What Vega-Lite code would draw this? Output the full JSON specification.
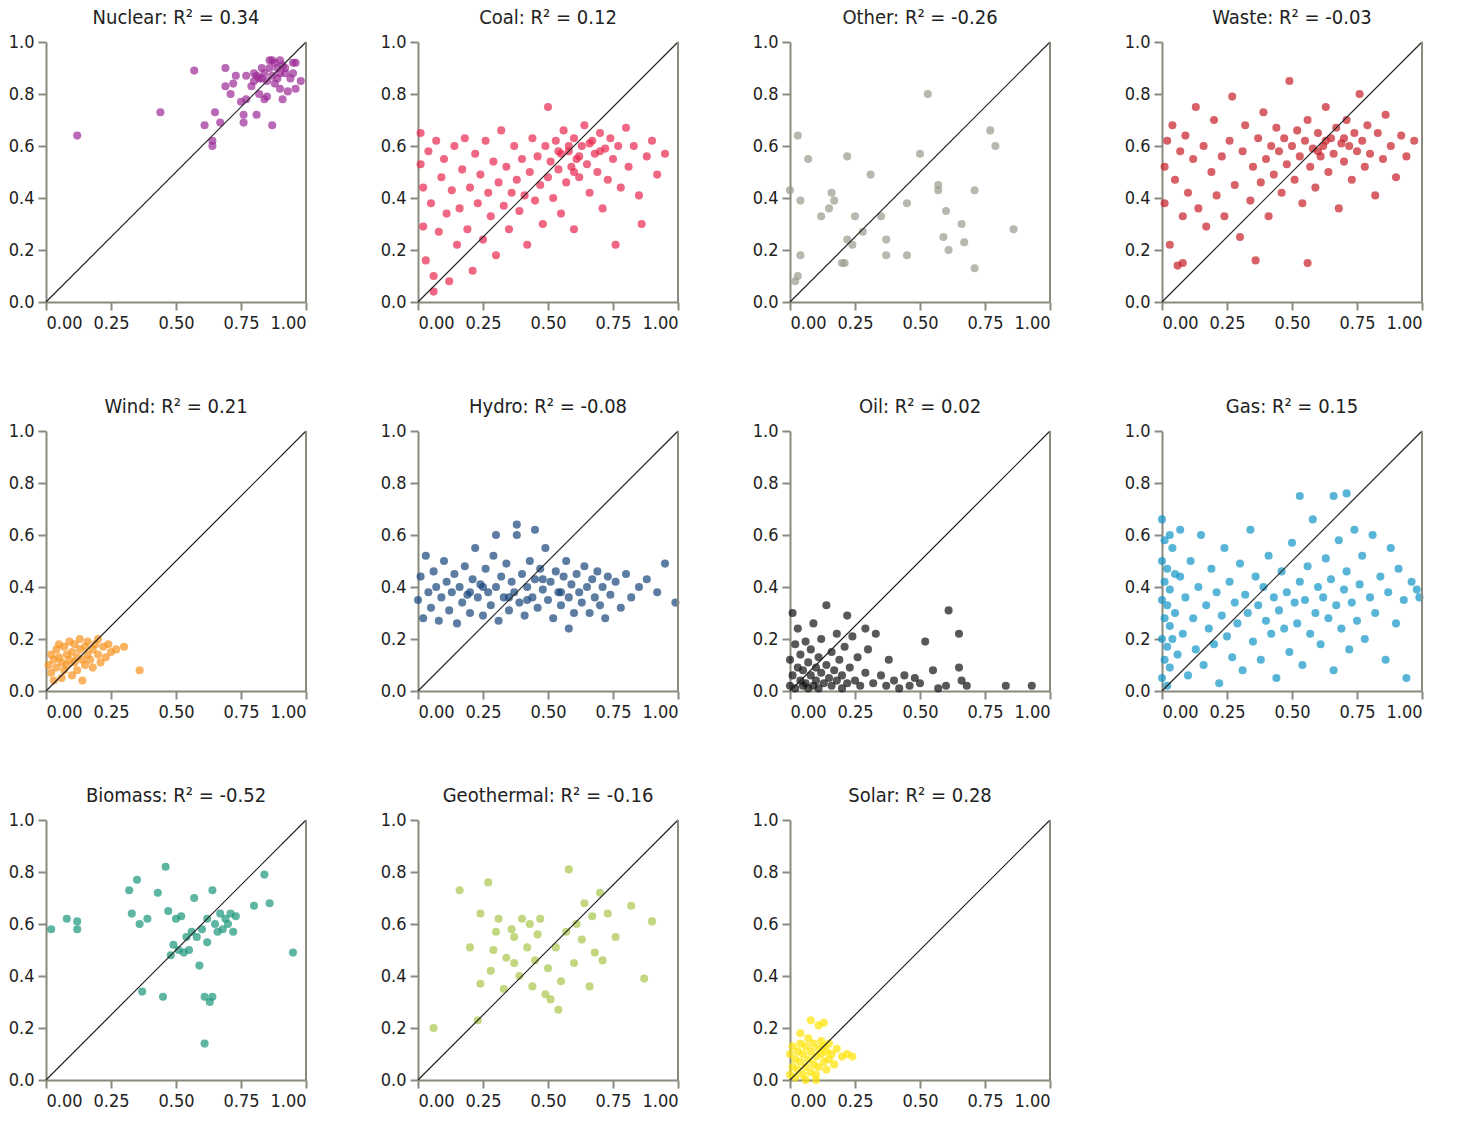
{
  "$schema": "https://vega.github.io/schema/vega-lite/v6.json",
  "config": {
    "font": "DejaVu Sans Condensed",
    "view": {"stroke": null},
    "axis": {"domainColor": "#8a8a7e", "domainWidth": 2, "tickColor": "#8a8a7e", "tickWidth": 2, "tickSize": 8, "labelFontSize": 18, "labelColor": "#222", "grid": false, "title": null, "labelPadding": 4},
    "header": {"labelFontSize": 20, "labelColor": "#222", "title": null, "labelPadding": 5}
  },
  "padding": {"left": 8, "top": 8, "right": 5, "bottom": 2},
  "data": {"values": [
    {"k":"d","x":0,"y":0,"p":"N"},{"k":"d","x":1,"y":1,"p":"N"},{"k":"r","x":1,"y":0,"p":"N"},{"k":"r","x":1,"y":1,"p":"N"},
    {"k":"d","x":0,"y":0,"p":"C"},{"k":"d","x":1,"y":1,"p":"C"},{"k":"r","x":1,"y":0,"p":"C"},{"k":"r","x":1,"y":1,"p":"C"},
    {"k":"d","x":0,"y":0,"p":"O"},{"k":"d","x":1,"y":1,"p":"O"},{"k":"r","x":1,"y":0,"p":"O"},{"k":"r","x":1,"y":1,"p":"O"},
    {"k":"d","x":0,"y":0,"p":"A"},{"k":"d","x":1,"y":1,"p":"A"},{"k":"r","x":1,"y":0,"p":"A"},{"k":"r","x":1,"y":1,"p":"A"},
    {"k":"d","x":0,"y":0,"p":"W"},{"k":"d","x":1,"y":1,"p":"W"},{"k":"r","x":1,"y":0,"p":"W"},{"k":"r","x":1,"y":1,"p":"W"},
    {"k":"d","x":0,"y":0,"p":"H"},{"k":"d","x":1,"y":1,"p":"H"},{"k":"r","x":1,"y":0,"p":"H"},{"k":"r","x":1,"y":1,"p":"H"},
    {"k":"d","x":0,"y":0,"p":"L"},{"k":"d","x":1,"y":1,"p":"L"},{"k":"r","x":1,"y":0,"p":"L"},{"k":"r","x":1,"y":1,"p":"L"},
    {"k":"d","x":0,"y":0,"p":"G"},{"k":"d","x":1,"y":1,"p":"G"},{"k":"r","x":1,"y":0,"p":"G"},{"k":"r","x":1,"y":1,"p":"G"},
    {"k":"d","x":0,"y":0,"p":"B"},{"k":"d","x":1,"y":1,"p":"B"},{"k":"r","x":1,"y":0,"p":"B"},{"k":"r","x":1,"y":1,"p":"B"},
    {"k":"d","x":0,"y":0,"p":"T"},{"k":"d","x":1,"y":1,"p":"T"},{"k":"r","x":1,"y":0,"p":"T"},{"k":"r","x":1,"y":1,"p":"T"},
    {"k":"d","x":0,"y":0,"p":"S"},{"k":"d","x":1,"y":1,"p":"S"},{"k":"r","x":1,"y":0,"p":"S"},{"k":"r","x":1,"y":1,"p":"S"},

    {"p":"N","x":0.12,"y":0.64},{"p":"N","x":0.44,"y":0.73},{"p":"N","x":0.57,"y":0.89},{"p":"N","x":0.61,"y":0.68},{"p":"N","x":0.64,"y":0.62},{"p":"N","x":0.64,"y":0.6},{"p":"N","x":0.65,"y":0.73},{"p":"N","x":0.67,"y":0.69},{"p":"N","x":0.69,"y":0.83},{"p":"N","x":0.69,"y":0.9},{"p":"N","x":0.71,"y":0.8},{"p":"N","x":0.72,"y":0.84},{"p":"N","x":0.73,"y":0.87},{"p":"N","x":0.75,"y":0.77},{"p":"N","x":0.76,"y":0.72},{"p":"N","x":0.76,"y":0.69},{"p":"N","x":0.77,"y":0.87},{"p":"N","x":0.77,"y":0.78},{"p":"N","x":0.79,"y":0.83},{"p":"N","x":0.8,"y":0.88},{"p":"N","x":0.81,"y":0.87},{"p":"N","x":0.81,"y":0.72},{"p":"N","x":0.82,"y":0.8},{"p":"N","x":0.82,"y":0.86},{"p":"N","x":0.83,"y":0.9},{"p":"N","x":0.84,"y":0.78},{"p":"N","x":0.84,"y":0.88},{"p":"N","x":0.85,"y":0.79},{"p":"N","x":0.85,"y":0.85},{"p":"N","x":0.86,"y":0.93},{"p":"N","x":0.86,"y":0.9},{"p":"N","x":0.87,"y":0.68},{"p":"N","x":0.87,"y":0.87},{"p":"N","x":0.88,"y":0.92},{"p":"N","x":0.88,"y":0.84},{"p":"N","x":0.89,"y":0.9},{"p":"N","x":0.89,"y":0.86},{"p":"N","x":0.9,"y":0.82},{"p":"N","x":0.9,"y":0.93},{"p":"N","x":0.9,"y":0.88},{"p":"N","x":0.91,"y":0.78},{"p":"N","x":0.91,"y":0.91},{"p":"N","x":0.92,"y":0.88},{"p":"N","x":0.93,"y":0.81},{"p":"N","x":0.94,"y":0.86},{"p":"N","x":0.95,"y":0.92},{"p":"N","x":0.95,"y":0.88},{"p":"N","x":0.96,"y":0.82},{"p":"N","x":0.96,"y":0.92},{"p":"N","x":0.98,"y":0.85},{"p":"N","x":0.87,"y":0.93},{"p":"N","x":0.83,"y":0.86},{"p":"N","x":0.8,"y":0.85},{"p":"N","x":0.92,"y":0.9},

    {"p":"C","x":0.01,"y":0.65},{"p":"C","x":0.01,"y":0.53},{"p":"C","x":0.02,"y":0.44},{"p":"C","x":0.02,"y":0.29},{"p":"C","x":0.03,"y":0.16},{"p":"C","x":0.04,"y":0.58},{"p":"C","x":0.05,"y":0.38},{"p":"C","x":0.06,"y":0.1},{"p":"C","x":0.06,"y":0.04},{"p":"C","x":0.07,"y":0.62},{"p":"C","x":0.08,"y":0.27},{"p":"C","x":0.09,"y":0.48},{"p":"C","x":0.1,"y":0.55},{"p":"C","x":0.11,"y":0.34},{"p":"C","x":0.12,"y":0.08},{"p":"C","x":0.13,"y":0.43},{"p":"C","x":0.14,"y":0.6},{"p":"C","x":0.15,"y":0.22},{"p":"C","x":0.16,"y":0.36},{"p":"C","x":0.17,"y":0.51},{"p":"C","x":0.18,"y":0.63},{"p":"C","x":0.19,"y":0.28},{"p":"C","x":0.2,"y":0.44},{"p":"C","x":0.21,"y":0.12},{"p":"C","x":0.22,"y":0.57},{"p":"C","x":0.23,"y":0.38},{"p":"C","x":0.24,"y":0.49},{"p":"C","x":0.25,"y":0.24},{"p":"C","x":0.26,"y":0.62},{"p":"C","x":0.27,"y":0.42},{"p":"C","x":0.28,"y":0.33},{"p":"C","x":0.29,"y":0.54},{"p":"C","x":0.3,"y":0.18},{"p":"C","x":0.31,"y":0.46},{"p":"C","x":0.32,"y":0.66},{"p":"C","x":0.33,"y":0.37},{"p":"C","x":0.34,"y":0.52},{"p":"C","x":0.35,"y":0.28},{"p":"C","x":0.36,"y":0.42},{"p":"C","x":0.37,"y":0.6},{"p":"C","x":0.38,"y":0.47},{"p":"C","x":0.39,"y":0.35},{"p":"C","x":0.4,"y":0.55},{"p":"C","x":0.41,"y":0.41},{"p":"C","x":0.42,"y":0.22},{"p":"C","x":0.43,"y":0.5},{"p":"C","x":0.44,"y":0.63},{"p":"C","x":0.45,"y":0.39},{"p":"C","x":0.46,"y":0.56},{"p":"C","x":0.47,"y":0.45},{"p":"C","x":0.48,"y":0.3},{"p":"C","x":0.49,"y":0.6},{"p":"C","x":0.5,"y":0.48},{"p":"C","x":0.5,"y":0.75},{"p":"C","x":0.51,"y":0.54},{"p":"C","x":0.52,"y":0.4},{"p":"C","x":0.53,"y":0.62},{"p":"C","x":0.54,"y":0.51},{"p":"C","x":0.55,"y":0.57},{"p":"C","x":0.55,"y":0.34},{"p":"C","x":0.56,"y":0.66},{"p":"C","x":0.57,"y":0.46},{"p":"C","x":0.58,"y":0.58},{"p":"C","x":0.59,"y":0.52},{"p":"C","x":0.6,"y":0.63},{"p":"C","x":0.6,"y":0.28},{"p":"C","x":0.61,"y":0.55},{"p":"C","x":0.62,"y":0.48},{"p":"C","x":0.63,"y":0.6},{"p":"C","x":0.64,"y":0.68},{"p":"C","x":0.65,"y":0.53},{"p":"C","x":0.66,"y":0.42},{"p":"C","x":0.67,"y":0.62},{"p":"C","x":0.68,"y":0.57},{"p":"C","x":0.69,"y":0.5},{"p":"C","x":0.7,"y":0.65},{"p":"C","x":0.71,"y":0.36},{"p":"C","x":0.72,"y":0.59},{"p":"C","x":0.73,"y":0.47},{"p":"C","x":0.74,"y":0.63},{"p":"C","x":0.75,"y":0.55},{"p":"C","x":0.76,"y":0.22},{"p":"C","x":0.77,"y":0.6},{"p":"C","x":0.78,"y":0.44},{"p":"C","x":0.8,"y":0.67},{"p":"C","x":0.81,"y":0.52},{"p":"C","x":0.83,"y":0.6},{"p":"C","x":0.85,"y":0.41},{"p":"C","x":0.86,"y":0.3},{"p":"C","x":0.88,"y":0.56},{"p":"C","x":0.9,"y":0.62},{"p":"C","x":0.92,"y":0.49},{"p":"C","x":0.95,"y":0.57},{"p":"C","x":0.58,"y":0.6},{"p":"C","x":0.62,"y":0.56},{"p":"C","x":0.66,"y":0.61},{"p":"C","x":0.7,"y":0.58},{"p":"C","x":0.54,"y":0.58},{"p":"C","x":0.6,"y":0.5},

    {"p":"O","x":0.0,"y":0.43},{"p":"O","x":0.02,"y":0.08},{"p":"O","x":0.03,"y":0.1},{"p":"O","x":0.03,"y":0.64},{"p":"O","x":0.04,"y":0.39},{"p":"O","x":0.04,"y":0.18},{"p":"O","x":0.07,"y":0.55},{"p":"O","x":0.12,"y":0.33},{"p":"O","x":0.15,"y":0.36},{"p":"O","x":0.16,"y":0.42},{"p":"O","x":0.17,"y":0.39},{"p":"O","x":0.2,"y":0.15},{"p":"O","x":0.21,"y":0.15},{"p":"O","x":0.22,"y":0.56},{"p":"O","x":0.22,"y":0.24},{"p":"O","x":0.24,"y":0.22},{"p":"O","x":0.25,"y":0.33},{"p":"O","x":0.28,"y":0.27},{"p":"O","x":0.31,"y":0.49},{"p":"O","x":0.35,"y":0.33},{"p":"O","x":0.37,"y":0.24},{"p":"O","x":0.37,"y":0.18},{"p":"O","x":0.45,"y":0.18},{"p":"O","x":0.45,"y":0.38},{"p":"O","x":0.5,"y":0.57},{"p":"O","x":0.53,"y":0.8},{"p":"O","x":0.57,"y":0.45},{"p":"O","x":0.57,"y":0.43},{"p":"O","x":0.59,"y":0.25},{"p":"O","x":0.6,"y":0.35},{"p":"O","x":0.61,"y":0.2},{"p":"O","x":0.66,"y":0.3},{"p":"O","x":0.67,"y":0.23},{"p":"O","x":0.71,"y":0.13},{"p":"O","x":0.71,"y":0.43},{"p":"O","x":0.77,"y":0.66},{"p":"O","x":0.79,"y":0.6},{"p":"O","x":0.86,"y":0.28},

    {"p":"A","x":0.01,"y":0.52},{"p":"A","x":0.01,"y":0.38},{"p":"A","x":0.02,"y":0.62},{"p":"A","x":0.03,"y":0.22},{"p":"A","x":0.04,"y":0.68},{"p":"A","x":0.05,"y":0.47},{"p":"A","x":0.06,"y":0.14},{"p":"A","x":0.07,"y":0.58},{"p":"A","x":0.08,"y":0.33},{"p":"A","x":0.09,"y":0.64},{"p":"A","x":0.1,"y":0.42},{"p":"A","x":0.12,"y":0.55},{"p":"A","x":0.13,"y":0.75},{"p":"A","x":0.14,"y":0.36},{"p":"A","x":0.16,"y":0.6},{"p":"A","x":0.17,"y":0.29},{"p":"A","x":0.19,"y":0.5},{"p":"A","x":0.2,"y":0.7},{"p":"A","x":0.21,"y":0.41},{"p":"A","x":0.23,"y":0.56},{"p":"A","x":0.24,"y":0.33},{"p":"A","x":0.26,"y":0.62},{"p":"A","x":0.27,"y":0.79},{"p":"A","x":0.28,"y":0.45},{"p":"A","x":0.3,"y":0.25},{"p":"A","x":0.31,"y":0.58},{"p":"A","x":0.32,"y":0.68},{"p":"A","x":0.34,"y":0.39},{"p":"A","x":0.35,"y":0.52},{"p":"A","x":0.36,"y":0.16},{"p":"A","x":0.37,"y":0.63},{"p":"A","x":0.38,"y":0.46},{"p":"A","x":0.39,"y":0.73},{"p":"A","x":0.4,"y":0.55},{"p":"A","x":0.41,"y":0.33},{"p":"A","x":0.42,"y":0.6},{"p":"A","x":0.43,"y":0.49},{"p":"A","x":0.44,"y":0.67},{"p":"A","x":0.45,"y":0.58},{"p":"A","x":0.46,"y":0.42},{"p":"A","x":0.47,"y":0.63},{"p":"A","x":0.48,"y":0.53},{"p":"A","x":0.49,"y":0.85},{"p":"A","x":0.5,"y":0.6},{"p":"A","x":0.51,"y":0.47},{"p":"A","x":0.52,"y":0.66},{"p":"A","x":0.53,"y":0.56},{"p":"A","x":0.54,"y":0.38},{"p":"A","x":0.55,"y":0.62},{"p":"A","x":0.56,"y":0.7},{"p":"A","x":0.57,"y":0.52},{"p":"A","x":0.58,"y":0.59},{"p":"A","x":0.59,"y":0.44},{"p":"A","x":0.6,"y":0.65},{"p":"A","x":0.61,"y":0.56},{"p":"A","x":0.62,"y":0.6},{"p":"A","x":0.63,"y":0.75},{"p":"A","x":0.64,"y":0.5},{"p":"A","x":0.65,"y":0.63},{"p":"A","x":0.66,"y":0.57},{"p":"A","x":0.67,"y":0.67},{"p":"A","x":0.68,"y":0.36},{"p":"A","x":0.69,"y":0.61},{"p":"A","x":0.7,"y":0.54},{"p":"A","x":0.71,"y":0.7},{"p":"A","x":0.72,"y":0.6},{"p":"A","x":0.73,"y":0.47},{"p":"A","x":0.74,"y":0.65},{"p":"A","x":0.75,"y":0.58},{"p":"A","x":0.76,"y":0.8},{"p":"A","x":0.77,"y":0.62},{"p":"A","x":0.78,"y":0.52},{"p":"A","x":0.79,"y":0.68},{"p":"A","x":0.8,"y":0.57},{"p":"A","x":0.82,"y":0.41},{"p":"A","x":0.83,"y":0.65},{"p":"A","x":0.85,"y":0.55},{"p":"A","x":0.86,"y":0.72},{"p":"A","x":0.88,"y":0.6},{"p":"A","x":0.9,"y":0.48},{"p":"A","x":0.92,"y":0.64},{"p":"A","x":0.94,"y":0.56},{"p":"A","x":0.97,"y":0.62},{"p":"A","x":0.63,"y":0.62},{"p":"A","x":0.7,"y":0.63},{"p":"A","x":0.6,"y":0.58},{"p":"A","x":0.56,"y":0.15},{"p":"A","x":0.08,"y":0.15},

    {"p":"W","x":0.01,"y":0.1},{"p":"W","x":0.02,"y":0.14},{"p":"W","x":0.02,"y":0.07},{"p":"W","x":0.03,"y":0.12},{"p":"W","x":0.04,"y":0.16},{"p":"W","x":0.04,"y":0.09},{"p":"W","x":0.05,"y":0.13},{"p":"W","x":0.06,"y":0.05},{"p":"W","x":0.06,"y":0.11},{"p":"W","x":0.07,"y":0.17},{"p":"W","x":0.07,"y":0.08},{"p":"W","x":0.08,"y":0.14},{"p":"W","x":0.08,"y":0.1},{"p":"W","x":0.09,"y":0.12},{"p":"W","x":0.09,"y":0.19},{"p":"W","x":0.1,"y":0.06},{"p":"W","x":0.1,"y":0.15},{"p":"W","x":0.11,"y":0.11},{"p":"W","x":0.11,"y":0.18},{"p":"W","x":0.12,"y":0.13},{"p":"W","x":0.12,"y":0.08},{"p":"W","x":0.13,"y":0.16},{"p":"W","x":0.13,"y":0.2},{"p":"W","x":0.14,"y":0.12},{"p":"W","x":0.14,"y":0.04},{"p":"W","x":0.15,"y":0.17},{"p":"W","x":0.15,"y":0.1},{"p":"W","x":0.16,"y":0.14},{"p":"W","x":0.16,"y":0.19},{"p":"W","x":0.17,"y":0.12},{"p":"W","x":0.18,"y":0.16},{"p":"W","x":0.18,"y":0.09},{"p":"W","x":0.19,"y":0.18},{"p":"W","x":0.2,"y":0.14},{"p":"W","x":0.2,"y":0.2},{"p":"W","x":0.21,"y":0.11},{"p":"W","x":0.22,"y":0.17},{"p":"W","x":0.23,"y":0.13},{"p":"W","x":0.24,"y":0.18},{"p":"W","x":0.25,"y":0.15},{"p":"W","x":0.27,"y":0.16},{"p":"W","x":0.3,"y":0.17},{"p":"W","x":0.36,"y":0.08},{"p":"W","x":0.05,"y":0.18},{"p":"W","x":0.03,"y":0.04},

    {"p":"H","x":0.0,"y":0.35},{"p":"H","x":0.01,"y":0.44},{"p":"H","x":0.02,"y":0.28},{"p":"H","x":0.03,"y":0.52},{"p":"H","x":0.04,"y":0.38},{"p":"H","x":0.05,"y":0.32},{"p":"H","x":0.06,"y":0.46},{"p":"H","x":0.07,"y":0.4},{"p":"H","x":0.08,"y":0.27},{"p":"H","x":0.09,"y":0.36},{"p":"H","x":0.1,"y":0.5},{"p":"H","x":0.11,"y":0.42},{"p":"H","x":0.12,"y":0.31},{"p":"H","x":0.13,"y":0.38},{"p":"H","x":0.14,"y":0.45},{"p":"H","x":0.15,"y":0.26},{"p":"H","x":0.16,"y":0.4},{"p":"H","x":0.17,"y":0.34},{"p":"H","x":0.18,"y":0.48},{"p":"H","x":0.19,"y":0.37},{"p":"H","x":0.2,"y":0.3},{"p":"H","x":0.21,"y":0.43},{"p":"H","x":0.22,"y":0.55},{"p":"H","x":0.23,"y":0.36},{"p":"H","x":0.24,"y":0.41},{"p":"H","x":0.25,"y":0.29},{"p":"H","x":0.26,"y":0.47},{"p":"H","x":0.27,"y":0.38},{"p":"H","x":0.28,"y":0.33},{"p":"H","x":0.29,"y":0.52},{"p":"H","x":0.3,"y":0.4},{"p":"H","x":0.31,"y":0.27},{"p":"H","x":0.32,"y":0.44},{"p":"H","x":0.33,"y":0.36},{"p":"H","x":0.34,"y":0.49},{"p":"H","x":0.35,"y":0.31},{"p":"H","x":0.36,"y":0.42},{"p":"H","x":0.37,"y":0.38},{"p":"H","x":0.38,"y":0.6},{"p":"H","x":0.39,"y":0.34},{"p":"H","x":0.4,"y":0.45},{"p":"H","x":0.41,"y":0.29},{"p":"H","x":0.42,"y":0.4},{"p":"H","x":0.43,"y":0.5},{"p":"H","x":0.44,"y":0.36},{"p":"H","x":0.45,"y":0.43},{"p":"H","x":0.46,"y":0.32},{"p":"H","x":0.47,"y":0.47},{"p":"H","x":0.48,"y":0.39},{"p":"H","x":0.49,"y":0.55},{"p":"H","x":0.5,"y":0.35},{"p":"H","x":0.51,"y":0.42},{"p":"H","x":0.52,"y":0.28},{"p":"H","x":0.53,"y":0.46},{"p":"H","x":0.54,"y":0.38},{"p":"H","x":0.55,"y":0.33},{"p":"H","x":0.56,"y":0.44},{"p":"H","x":0.57,"y":0.5},{"p":"H","x":0.58,"y":0.36},{"p":"H","x":0.59,"y":0.41},{"p":"H","x":0.6,"y":0.3},{"p":"H","x":0.61,"y":0.45},{"p":"H","x":0.62,"y":0.38},{"p":"H","x":0.63,"y":0.34},{"p":"H","x":0.64,"y":0.48},{"p":"H","x":0.65,"y":0.4},{"p":"H","x":0.66,"y":0.3},{"p":"H","x":0.67,"y":0.43},{"p":"H","x":0.68,"y":0.36},{"p":"H","x":0.69,"y":0.46},{"p":"H","x":0.7,"y":0.33},{"p":"H","x":0.71,"y":0.4},{"p":"H","x":0.72,"y":0.28},{"p":"H","x":0.73,"y":0.44},{"p":"H","x":0.74,"y":0.37},{"p":"H","x":0.76,"y":0.42},{"p":"H","x":0.78,"y":0.32},{"p":"H","x":0.8,"y":0.45},{"p":"H","x":0.82,"y":0.36},{"p":"H","x":0.85,"y":0.4},{"p":"H","x":0.88,"y":0.43},{"p":"H","x":0.92,"y":0.38},{"p":"H","x":0.95,"y":0.49},{"p":"H","x":0.99,"y":0.34},{"p":"H","x":0.58,"y":0.24},{"p":"H","x":0.38,"y":0.64},{"p":"H","x":0.45,"y":0.62},{"p":"H","x":0.3,"y":0.6},{"p":"H","x":0.55,"y":0.38},{"p":"H","x":0.2,"y":0.38},{"p":"H","x":0.35,"y":0.36},{"p":"H","x":0.48,"y":0.43},{"p":"H","x":0.25,"y":0.4},{"p":"H","x":0.42,"y":0.35},

    {"p":"L","x":0.0,"y":0.02},{"p":"L","x":0.0,"y":0.12},{"p":"L","x":0.01,"y":0.3},{"p":"L","x":0.01,"y":0.06},{"p":"L","x":0.02,"y":0.18},{"p":"L","x":0.02,"y":0.01},{"p":"L","x":0.03,"y":0.09},{"p":"L","x":0.03,"y":0.24},{"p":"L","x":0.04,"y":0.04},{"p":"L","x":0.04,"y":0.14},{"p":"L","x":0.05,"y":0.02},{"p":"L","x":0.05,"y":0.08},{"p":"L","x":0.06,"y":0.19},{"p":"L","x":0.06,"y":0.03},{"p":"L","x":0.07,"y":0.11},{"p":"L","x":0.07,"y":0.01},{"p":"L","x":0.08,"y":0.06},{"p":"L","x":0.08,"y":0.16},{"p":"L","x":0.09,"y":0.02},{"p":"L","x":0.09,"y":0.26},{"p":"L","x":0.1,"y":0.09},{"p":"L","x":0.1,"y":0.04},{"p":"L","x":0.11,"y":0.13},{"p":"L","x":0.11,"y":0.01},{"p":"L","x":0.12,"y":0.07},{"p":"L","x":0.12,"y":0.2},{"p":"L","x":0.13,"y":0.03},{"p":"L","x":0.14,"y":0.1},{"p":"L","x":0.14,"y":0.33},{"p":"L","x":0.15,"y":0.05},{"p":"L","x":0.16,"y":0.15},{"p":"L","x":0.16,"y":0.02},{"p":"L","x":0.17,"y":0.08},{"p":"L","x":0.18,"y":0.22},{"p":"L","x":0.18,"y":0.04},{"p":"L","x":0.19,"y":0.12},{"p":"L","x":0.2,"y":0.01},{"p":"L","x":0.2,"y":0.06},{"p":"L","x":0.21,"y":0.17},{"p":"L","x":0.22,"y":0.03},{"p":"L","x":0.23,"y":0.09},{"p":"L","x":0.24,"y":0.21},{"p":"L","x":0.25,"y":0.04},{"p":"L","x":0.26,"y":0.13},{"p":"L","x":0.27,"y":0.02},{"p":"L","x":0.29,"y":0.07},{"p":"L","x":0.3,"y":0.16},{"p":"L","x":0.32,"y":0.03},{"p":"L","x":0.33,"y":0.22},{"p":"L","x":0.35,"y":0.06},{"p":"L","x":0.37,"y":0.02},{"p":"L","x":0.38,"y":0.12},{"p":"L","x":0.4,"y":0.04},{"p":"L","x":0.42,"y":0.01},{"p":"L","x":0.44,"y":0.06},{"p":"L","x":0.46,"y":0.02},{"p":"L","x":0.48,"y":0.05},{"p":"L","x":0.5,"y":0.03},{"p":"L","x":0.52,"y":0.19},{"p":"L","x":0.55,"y":0.08},{"p":"L","x":0.57,"y":0.01},{"p":"L","x":0.6,"y":0.02},{"p":"L","x":0.61,"y":0.31},{"p":"L","x":0.65,"y":0.22},{"p":"L","x":0.65,"y":0.09},{"p":"L","x":0.66,"y":0.04},{"p":"L","x":0.68,"y":0.02},{"p":"L","x":0.83,"y":0.02},{"p":"L","x":0.93,"y":0.02},{"p":"L","x":0.29,"y":0.24},{"p":"L","x":0.22,"y":0.29},

    {"p":"G","x":0.0,"y":0.05},{"p":"G","x":0.0,"y":0.2},{"p":"G","x":0.0,"y":0.35},{"p":"G","x":0.0,"y":0.5},{"p":"G","x":0.0,"y":0.66},{"p":"G","x":0.01,"y":0.12},{"p":"G","x":0.01,"y":0.28},{"p":"G","x":0.01,"y":0.42},{"p":"G","x":0.01,"y":0.58},{"p":"G","x":0.02,"y":0.02},{"p":"G","x":0.02,"y":0.17},{"p":"G","x":0.02,"y":0.33},{"p":"G","x":0.02,"y":0.47},{"p":"G","x":0.03,"y":0.25},{"p":"G","x":0.03,"y":0.39},{"p":"G","x":0.03,"y":0.09},{"p":"G","x":0.04,"y":0.55},{"p":"G","x":0.05,"y":0.3},{"p":"G","x":0.06,"y":0.14},{"p":"G","x":0.07,"y":0.44},{"p":"G","x":0.08,"y":0.22},{"p":"G","x":0.09,"y":0.36},{"p":"G","x":0.1,"y":0.06},{"p":"G","x":0.11,"y":0.5},{"p":"G","x":0.12,"y":0.28},{"p":"G","x":0.13,"y":0.16},{"p":"G","x":0.14,"y":0.4},{"p":"G","x":0.15,"y":0.6},{"p":"G","x":0.16,"y":0.1},{"p":"G","x":0.17,"y":0.33},{"p":"G","x":0.18,"y":0.24},{"p":"G","x":0.19,"y":0.47},{"p":"G","x":0.2,"y":0.18},{"p":"G","x":0.21,"y":0.38},{"p":"G","x":0.22,"y":0.03},{"p":"G","x":0.23,"y":0.29},{"p":"G","x":0.24,"y":0.55},{"p":"G","x":0.25,"y":0.21},{"p":"G","x":0.26,"y":0.42},{"p":"G","x":0.27,"y":0.13},{"p":"G","x":0.28,"y":0.34},{"p":"G","x":0.29,"y":0.26},{"p":"G","x":0.3,"y":0.49},{"p":"G","x":0.31,"y":0.08},{"p":"G","x":0.32,"y":0.37},{"p":"G","x":0.33,"y":0.3},{"p":"G","x":0.34,"y":0.62},{"p":"G","x":0.35,"y":0.19},{"p":"G","x":0.36,"y":0.44},{"p":"G","x":0.37,"y":0.33},{"p":"G","x":0.38,"y":0.12},{"p":"G","x":0.39,"y":0.4},{"p":"G","x":0.4,"y":0.27},{"p":"G","x":0.41,"y":0.52},{"p":"G","x":0.42,"y":0.22},{"p":"G","x":0.43,"y":0.36},{"p":"G","x":0.44,"y":0.05},{"p":"G","x":0.45,"y":0.31},{"p":"G","x":0.46,"y":0.46},{"p":"G","x":0.47,"y":0.24},{"p":"G","x":0.48,"y":0.38},{"p":"G","x":0.49,"y":0.15},{"p":"G","x":0.5,"y":0.57},{"p":"G","x":0.51,"y":0.34},{"p":"G","x":0.52,"y":0.26},{"p":"G","x":0.53,"y":0.42},{"p":"G","x":0.54,"y":0.1},{"p":"G","x":0.55,"y":0.35},{"p":"G","x":0.56,"y":0.48},{"p":"G","x":0.57,"y":0.22},{"p":"G","x":0.58,"y":0.66},{"p":"G","x":0.59,"y":0.3},{"p":"G","x":0.6,"y":0.4},{"p":"G","x":0.61,"y":0.18},{"p":"G","x":0.62,"y":0.36},{"p":"G","x":0.63,"y":0.51},{"p":"G","x":0.64,"y":0.28},{"p":"G","x":0.65,"y":0.43},{"p":"G","x":0.66,"y":0.08},{"p":"G","x":0.67,"y":0.33},{"p":"G","x":0.68,"y":0.58},{"p":"G","x":0.69,"y":0.24},{"p":"G","x":0.7,"y":0.39},{"p":"G","x":0.71,"y":0.46},{"p":"G","x":0.72,"y":0.16},{"p":"G","x":0.73,"y":0.34},{"p":"G","x":0.74,"y":0.62},{"p":"G","x":0.75,"y":0.27},{"p":"G","x":0.76,"y":0.41},{"p":"G","x":0.77,"y":0.52},{"p":"G","x":0.78,"y":0.2},{"p":"G","x":0.8,"y":0.36},{"p":"G","x":0.81,"y":0.6},{"p":"G","x":0.82,"y":0.3},{"p":"G","x":0.84,"y":0.44},{"p":"G","x":0.86,"y":0.12},{"p":"G","x":0.87,"y":0.38},{"p":"G","x":0.88,"y":0.55},{"p":"G","x":0.9,"y":0.26},{"p":"G","x":0.91,"y":0.47},{"p":"G","x":0.93,"y":0.35},{"p":"G","x":0.94,"y":0.05},{"p":"G","x":0.96,"y":0.42},{"p":"G","x":0.98,"y":0.39},{"p":"G","x":0.99,"y":0.36},{"p":"G","x":0.66,"y":0.75},{"p":"G","x":0.71,"y":0.76},{"p":"G","x":0.53,"y":0.75},{"p":"G","x":0.07,"y":0.62},{"p":"G","x":0.04,"y":0.2},{"p":"G","x":0.05,"y":0.45},{"p":"G","x":0.03,"y":0.6},

    {"p":"B","x":0.02,"y":0.58},{"p":"B","x":0.08,"y":0.62},{"p":"B","x":0.12,"y":0.58},{"p":"B","x":0.12,"y":0.61},{"p":"B","x":0.32,"y":0.73},{"p":"B","x":0.33,"y":0.64},{"p":"B","x":0.35,"y":0.77},{"p":"B","x":0.36,"y":0.6},{"p":"B","x":0.37,"y":0.34},{"p":"B","x":0.39,"y":0.62},{"p":"B","x":0.43,"y":0.72},{"p":"B","x":0.45,"y":0.32},{"p":"B","x":0.46,"y":0.82},{"p":"B","x":0.47,"y":0.65},{"p":"B","x":0.48,"y":0.48},{"p":"B","x":0.49,"y":0.52},{"p":"B","x":0.5,"y":0.62},{"p":"B","x":0.51,"y":0.5},{"p":"B","x":0.52,"y":0.63},{"p":"B","x":0.53,"y":0.49},{"p":"B","x":0.54,"y":0.55},{"p":"B","x":0.55,"y":0.5},{"p":"B","x":0.56,"y":0.57},{"p":"B","x":0.57,"y":0.7},{"p":"B","x":0.58,"y":0.55},{"p":"B","x":0.59,"y":0.44},{"p":"B","x":0.6,"y":0.58},{"p":"B","x":0.61,"y":0.32},{"p":"B","x":0.61,"y":0.14},{"p":"B","x":0.62,"y":0.53},{"p":"B","x":0.62,"y":0.62},{"p":"B","x":0.63,"y":0.3},{"p":"B","x":0.64,"y":0.32},{"p":"B","x":0.64,"y":0.73},{"p":"B","x":0.65,"y":0.6},{"p":"B","x":0.66,"y":0.57},{"p":"B","x":0.67,"y":0.64},{"p":"B","x":0.68,"y":0.58},{"p":"B","x":0.69,"y":0.62},{"p":"B","x":0.7,"y":0.6},{"p":"B","x":0.71,"y":0.64},{"p":"B","x":0.72,"y":0.57},{"p":"B","x":0.73,"y":0.63},{"p":"B","x":0.8,"y":0.67},{"p":"B","x":0.84,"y":0.79},{"p":"B","x":0.86,"y":0.68},{"p":"B","x":0.95,"y":0.49},

    {"p":"T","x":0.06,"y":0.2},{"p":"T","x":0.16,"y":0.73},{"p":"T","x":0.2,"y":0.51},{"p":"T","x":0.23,"y":0.23},{"p":"T","x":0.24,"y":0.37},{"p":"T","x":0.24,"y":0.64},{"p":"T","x":0.27,"y":0.76},{"p":"T","x":0.28,"y":0.42},{"p":"T","x":0.29,"y":0.5},{"p":"T","x":0.3,"y":0.57},{"p":"T","x":0.31,"y":0.62},{"p":"T","x":0.33,"y":0.35},{"p":"T","x":0.34,"y":0.47},{"p":"T","x":0.36,"y":0.58},{"p":"T","x":0.37,"y":0.55},{"p":"T","x":0.37,"y":0.45},{"p":"T","x":0.39,"y":0.4},{"p":"T","x":0.4,"y":0.62},{"p":"T","x":0.42,"y":0.51},{"p":"T","x":0.43,"y":0.6},{"p":"T","x":0.44,"y":0.36},{"p":"T","x":0.45,"y":0.46},{"p":"T","x":0.46,"y":0.56},{"p":"T","x":0.47,"y":0.62},{"p":"T","x":0.49,"y":0.33},{"p":"T","x":0.5,"y":0.43},{"p":"T","x":0.51,"y":0.31},{"p":"T","x":0.53,"y":0.51},{"p":"T","x":0.54,"y":0.27},{"p":"T","x":0.55,"y":0.38},{"p":"T","x":0.57,"y":0.57},{"p":"T","x":0.58,"y":0.81},{"p":"T","x":0.6,"y":0.45},{"p":"T","x":0.61,"y":0.6},{"p":"T","x":0.63,"y":0.54},{"p":"T","x":0.64,"y":0.68},{"p":"T","x":0.66,"y":0.36},{"p":"T","x":0.67,"y":0.63},{"p":"T","x":0.68,"y":0.49},{"p":"T","x":0.7,"y":0.72},{"p":"T","x":0.71,"y":0.46},{"p":"T","x":0.73,"y":0.64},{"p":"T","x":0.76,"y":0.55},{"p":"T","x":0.82,"y":0.67},{"p":"T","x":0.87,"y":0.39},{"p":"T","x":0.9,"y":0.61},

    {"p":"S","x":0.0,"y":0.02},{"p":"S","x":0.0,"y":0.1},{"p":"S","x":0.01,"y":0.05},{"p":"S","x":0.01,"y":0.13},{"p":"S","x":0.02,"y":0.08},{"p":"S","x":0.02,"y":0.01},{"p":"S","x":0.03,"y":0.11},{"p":"S","x":0.03,"y":0.04},{"p":"S","x":0.04,"y":0.14},{"p":"S","x":0.04,"y":0.07},{"p":"S","x":0.05,"y":0.02},{"p":"S","x":0.05,"y":0.1},{"p":"S","x":0.06,"y":0.05},{"p":"S","x":0.06,"y":0.13},{"p":"S","x":0.07,"y":0.08},{"p":"S","x":0.07,"y":0.16},{"p":"S","x":0.08,"y":0.03},{"p":"S","x":0.08,"y":0.11},{"p":"S","x":0.09,"y":0.06},{"p":"S","x":0.09,"y":0.14},{"p":"S","x":0.1,"y":0.09},{"p":"S","x":0.1,"y":0.02},{"p":"S","x":0.11,"y":0.12},{"p":"S","x":0.11,"y":0.05},{"p":"S","x":0.12,"y":0.1},{"p":"S","x":0.12,"y":0.15},{"p":"S","x":0.13,"y":0.07},{"p":"S","x":0.13,"y":0.13},{"p":"S","x":0.14,"y":0.04},{"p":"S","x":0.14,"y":0.11},{"p":"S","x":0.15,"y":0.08},{"p":"S","x":0.15,"y":0.14},{"p":"S","x":0.16,"y":0.1},{"p":"S","x":0.17,"y":0.06},{"p":"S","x":0.18,"y":0.12},{"p":"S","x":0.2,"y":0.09},{"p":"S","x":0.22,"y":0.1},{"p":"S","x":0.24,"y":0.09},{"p":"S","x":0.08,"y":0.23},{"p":"S","x":0.11,"y":0.21},{"p":"S","x":0.13,"y":0.22},{"p":"S","x":0.04,"y":0.18},{"p":"S","x":0.06,"y":0.0},{"p":"S","x":0.1,"y":0.0}
  ]},
  "facet": {"field": "p", "type": "nominal", "sort": ["N","C","O","A","W","H","L","G","B","T","S"],
    "header": {"labelExpr": "{'N':'Nuclear: R² = 0.34','C':'Coal: R² = 0.12','O':'Other: R² = -0.26','A':'Waste: R² = -0.03','W':'Wind: R² = 0.21','H':'Hydro: R² = -0.08','L':'Oil: R² = 0.02','G':'Gas: R² = 0.15','B':'Biomass: R² = -0.52','T':'Geothermal: R² = -0.16','S':'Solar: R² = 0.28'}[datum.value]"}},
  "columns": 4,
  "spacing": {"column": 70, "row": 65},
  "resolve": {"axis": {"x": "independent", "y": "independent"}},
  "spec": {
    "width": 260,
    "height": 260,
    "layer": [
      {
        "transform": [{"filter": "datum.k == null"}],
        "mark": {"type": "circle", "size": 65, "opacity": 0.7},
        "encoding": {
          "x": {"field": "x", "type": "quantitative", "scale": {"domain": [0, 1]}, "axis": {"format": ".2f", "values": [0, 0.25, 0.5, 0.75, 1]}},
          "y": {"field": "y", "type": "quantitative", "scale": {"domain": [0, 1]}, "axis": {"format": ".1f", "values": [0, 0.2, 0.4, 0.6, 0.8, 1]}},
          "color": {"field": "p", "type": "nominal", "legend": null, "scale": {"domain": ["N","C","O","A","W","H","L","G","B","T","S"], "range": ["#9b2a96","#e8264f","#9a9a8c","#c81e28","#f7931e","#17457a","#111111","#1396c8","#1a957a","#a8c64a","#ffe400"]}}
        }
      },
      {
        "transform": [{"filter": "datum.k == 'd'"}],
        "mark": {"type": "line", "color": "#222", "strokeWidth": 1.2},
        "encoding": {"x": {"field": "x", "type": "quantitative"}, "y": {"field": "y", "type": "quantitative"}}
      },
      {
        "transform": [{"filter": "datum.k == 'r'"}],
        "mark": {"type": "line", "color": "#8a8a7e", "strokeWidth": 2},
        "encoding": {"x": {"field": "x", "type": "quantitative"}, "y": {"field": "y", "type": "quantitative"}}
      }
    ]
  }
}
